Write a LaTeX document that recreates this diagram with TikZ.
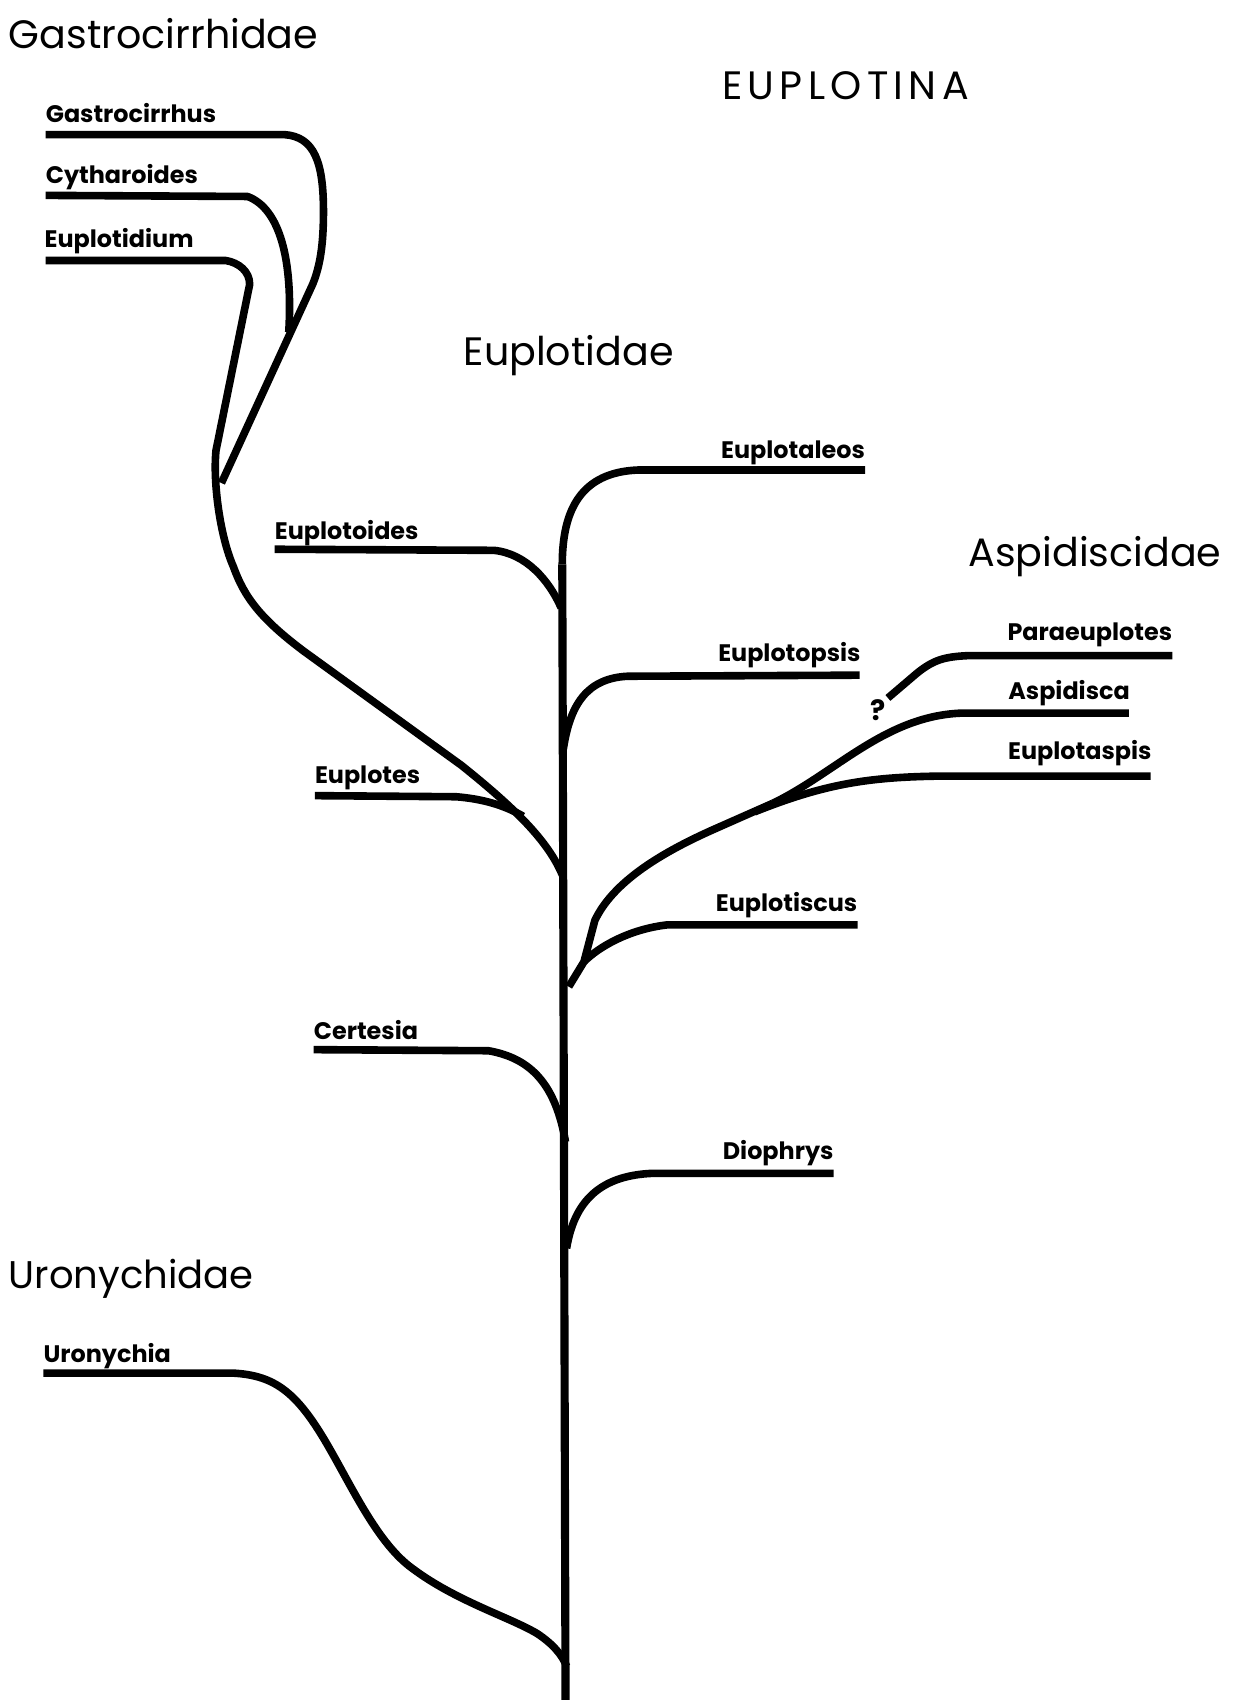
\documentclass[tikz,border=0pt]{standalone}
\usepackage{fontspec}
\setmainfont{Poppins}
\begin{document}
\begin{tikzpicture}[x=1pt,y=-1pt,
  branch/.style={line width=7pt,line cap=butt,line join=round},
  lab/.style={font=\bfseries\fontsize{22}{22}\selectfont,inner sep=0pt},
  labl/.style={lab,anchor=base west},
  labr/.style={lab,anchor=base east},
  fam/.style={font=\fontsize{36.5}{36.5}\selectfont,inner sep=0pt,anchor=base west}]
\useasboundingbox[fill=white] (0,0) rectangle (1136,1568);

% family / group titles
\node[fam] (tGas) at (8,45) {Gastrocirrhidae};
\node[fam,font=\fontsize{36.5}{36.5}\selectfont\addfontfeature{LetterSpace=13.5}] (tEup) at (665,92) {EUPLOTINA};
\node[fam] (tEud) at (427,337) {Euplotidae};
\node[fam] (tAsp) at (892,522) {Aspidiscidae};
\node[fam,font=\fontsize{35.5}{35.5}\selectfont] (tUro) at (8,1187) {Uronychidae};

% line ends
\coordinate (eGas) at (42,124);
\coordinate (eCyt) at (42,180);
\coordinate (eEdm) at (42,240);
\coordinate (eEta) at (797,433);
\coordinate (eEto) at (253,506);
\coordinate (eEps) at (792,622);
\coordinate (ePar) at (1080,604);
\coordinate (eAsp) at (1040,657);
\coordinate (eEas) at (1060,715);
\coordinate (eEpl) at (290,733);
\coordinate (eEsc) at (790,852);
\coordinate (eCer) at (289,967);
\coordinate (eDio) at (768,1081);
\coordinate (eUro) at (40,1265);
% junctions
\coordinate (root) at (521,1566);
\coordinate (jTop) at (518,520);
\coordinate (jEto) at (517,560);
\coordinate (jEps) at (519,690);
\coordinate (jGas) at (518,806);
\coordinate (jEsc) at (524,909);
\coordinate (jAs1) at (538,886);
\coordinate (jAs2) at (712,740);
\coordinate (jCer) at (521,1052);
\coordinate (jDio) at (522,1150);
\coordinate (jUro) at (522,1535);
\coordinate (jG1) at (204,445);
\coordinate (jG2) at (266,306);
\coordinate (jEpl) at (482,752);
\coordinate (qPar) at (818,643);

% labels
\node[labl] (lGas) at (42,113) {Gastrocirrhus};
\node[labl] (lCyt) at (42,169) {Cytharoides};
\node[labl] (lEdm) at (41,228) {Euplotidium};
\node[labr] (lEta) at (797,422) {Euplotaleos};
\node[labl] (lEto) at (253,497) {Euplotoides};
\node[labr] (lEps) at (793,609) {Euplotopsis};
\node[labr] (lPar) at (1080,590) {Paraeuplotes};
\node[labr] (lAsp) at (1041,644) {Aspidisca};
\node[labr] (lEas) at (1061,700) {Euplotaspis};
\node[labl] (lEpl) at (290,722) {Euplotes};
\node[labr] (lEsc) at (790,840) {Euplotiscus};
\node[labl] (lCer) at (289,958) {Certesia};
\node[labr] (lDio) at (768,1068) {Diophrys};
\node[labl] (lUro) at (40,1255) {Uronychia};
\node[lab,font=\bfseries\fontsize{26}{26}\selectfont,anchor=base] (qmark) at (809,664) {?};

% trunk
\draw[branch,line width=7.5pt] (root) -- (jTop);
\draw[branch] (jTop) .. controls (518,470) and (535,435) .. (588,433) -- (eEta);
% Euplotoides
\draw[branch] (eEto) -- (455,507) .. controls (485,510) and (506,535) .. (jEto);
% Euplotopsis
\draw[branch] (eEps) -- (578,623) .. controls (540,625) and (525,650) .. (jEps);
% Gastrocirrhidae group
\draw[branch] (eGas) -- (262,124) .. controls (290,126) and (298,150) .. (298,195)
   .. controls (298,225) and (295,245) .. (288,262) -- (jG1);
\draw[branch] (eCyt) -- (228,181) .. controls (258,192) and (270,240) .. (jG2);
\draw[branch] (eEdm) -- (208,240) .. controls (220,242) and (230,250) .. (230,262)
   -- (199,415) .. controls (196,445) and (203,495) .. (215,522)
   .. controls (225,550) and (240,570) .. (280,600) -- (425,705)
   .. controls (475,745) and (505,775) .. (jGas);
% Euplotes
\draw[branch] (eEpl) -- (420,734) .. controls (445,736) and (465,742) .. (jEpl);
% Aspidiscidae group
\draw[branch] (jEsc) -- (jAs1) -- (548,848) .. controls (565,812) and (610,785) .. (660,763) -- (jAs2);
\draw[branch] (jAs2) .. controls (770,712) and (815,660) .. (885,657) -- (eAsp);
\draw[branch] (695,748) .. controls (760,722) and (800,716) .. (865,715) -- (eEas);
\draw[branch] (qPar) -- (845,620) .. controls (860,608) and (870,605) .. (892,604) -- (ePar);
% Euplotiscus
\draw[branch] (eEsc) -- (615,852) .. controls (580,856) and (552,872) .. (jAs1);
% Certesia
\draw[branch] (eCer) -- (450,968) .. controls (490,975) and (512,1000) .. (jCer);
% Diophrys
\draw[branch] (eDio) -- (600,1081) .. controls (560,1083) and (530,1100) .. (jDio);
% Uronychia
\draw[branch] (eUro) -- (215,1265) .. controls (250,1267) and (270,1280) .. (295,1320)
   .. controls (320,1360) and (345,1420) .. (380,1445)
   .. controls (420,1475) and (470,1490) .. (495,1505)
   .. controls (510,1515) and (518,1525) .. (jUro);
\end{tikzpicture}
\end{document}
